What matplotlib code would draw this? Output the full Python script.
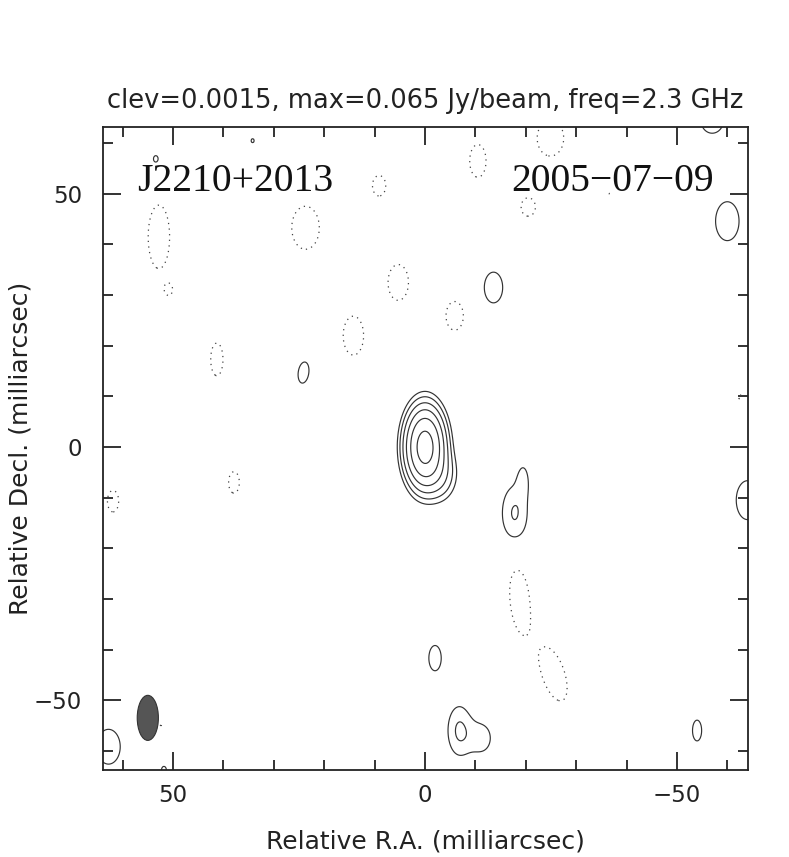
import numpy as np
import matplotlib
matplotlib.use("Agg")
import matplotlib.pyplot as plt
from matplotlib.patches import Ellipse
from matplotlib.ticker import MultipleLocator

# Map header values
CLEV = 0.0015
PEAK = 0.065
FREQ = 2.3
SOURCE = "J2210+2013"
EPOCH = "2005-07-09"

# Clean components: RA, Dec (mas), flux (Jy/beam),
# minor / major sigma (mas), position angle (deg, N through E)
comp_ra = [0.0, -3.0, 34.2, 53.4, -57.0, -60.0, -13.6, 24.1, -64.0, -17.8,
           -19.5, -2.0, -6.8, -11.2, -54.0, 62.8, 51.8,
           52.8, 50.8, 23.7, 9.1, 5.3, -10.5, -24.9, -20.5, -5.9, 14.2,
           41.3, 37.9, 61.9, -62.5, -18.8, -25.5, 52.4, -36.7]
comp_dec = [0.0, -5.5, 60.5, 56.8, 64.5, 44.6, 31.5, 14.7, -10.5, -13.2,
            -6.5, -41.7, -56.0, -57.5, -56.0, -59.2, -63.8,
            41.5, 31.0, 43.3, 51.6, 32.5, 56.5, 61.0, 47.4, 25.9, 22.0,
            17.3, -7.0, -10.7, 9.9, -30.2, -44.9, -54.8, 50.0]
comp_flux = [0.065, 0.005, 0.0016, 0.0017, 0.0025, 0.0025, 0.0025, 0.0022,
             0.0025, 0.0032, 0.0020, 0.0022, 0.0032, 0.0022, 0.0018, 0.0025,
             0.0018,
             -0.0025, -0.0017, -0.0025, -0.0025, -0.0025, -0.0025, -0.0025,
             -0.0025, -0.0025, -0.0025, -0.0025, -0.0025, -0.0025, -0.0017,
             -0.0025, -0.0025, -0.0016, -0.0016]
comp_smin = [2.0, 2.0, 0.85, 1.4, 2.2, 2.3, 1.8, 1.2, 2.2, 2.0,
             0.9, 1.4, 1.8, 2.0, 1.5, 2.3, 0.8,
             2.1, 0.9, 2.7, 1.3, 2.0, 1.6, 2.6, 1.4, 1.7, 2.0,
             1.2, 1.05, 1.1, 0.6, 1.9, 2.2, 0.5, 0.4]
comp_smaj = [4.0, 3.0, 1.1, 2.0, 2.5, 3.8, 3.0, 2.4, 3.8, 4.3,
             2.5, 2.85, 3.8, 2.8, 3.4, 3.4, 1.2,
             6.2, 1.3, 4.2, 2.0, 3.5, 3.2, 3.5, 1.8, 2.8, 3.8,
             3.2, 2.1, 2.1, 0.9, 6.2, 5.4, 0.8, 0.5]
comp_pa = [0, 0, 0, 0, 0, 0, 0, -8, 0, 0,
           0, 0, 0, 0, 0, 0, 0,
           0, 0, 0, 0, 0, 0, 0, 0, 0, 0,
           0, 0, 0, 0, 5, 18, 0, 0]

# Restoring beam (mas, deg)
BEAM_RA, BEAM_DEC = 55.0, -53.5
BEAM_MIN, BEAM_MAJ, BEAM_PA = 4.2, 8.9, 0.0

XLIM = (63.9, -64.1)
YLIM = (-63.8, 63.2)

ra = np.linspace(66, -66, 661)
dec = np.linspace(-66, 66, 661)
RA, DEC = np.meshgrid(ra, dec)
img = np.zeros_like(RA)
for x0, y0, a, smin, smaj, pa in zip(comp_ra, comp_dec, comp_flux,
                                     comp_smin, comp_smaj, comp_pa):
    t = np.radians(pa)
    dx, dy = RA - x0, DEC - y0
    u = dx * np.sin(t) + dy * np.cos(t)
    v = dx * np.cos(t) - dy * np.sin(t)
    img += a * np.exp(-(v ** 2 / (2 * smin ** 2) + u ** 2 / (2 * smaj ** 2)))

pos_levels = [CLEV * 2 ** k for k in range(10) if CLEV * 2 ** k < PEAK]

plt.rcParams['font.family'] = ['DejaVu Sans']
fig = plt.figure(figsize=(7.89, 8.57), dpi=100)
ax = fig.add_axes([0.1305, 0.1015, 0.8175, 0.7503])

ax.contour(RA, DEC, img, levels=pos_levels, colors='#333333',
           linewidths=0.85, linestyles='solid')
ax.contour(RA, DEC, img, levels=[-CLEV], colors='#444444',
           linewidths=0.9, linestyles=[(0, (1, 3.5))])

ax.add_patch(Ellipse((BEAM_RA, BEAM_DEC), BEAM_MIN, BEAM_MAJ, angle=-BEAM_PA,
                     facecolor='#555555', edgecolor='#333333', lw=0.8))

ax.set_xlim(*XLIM)
ax.set_ylim(*YLIM)
ax.xaxis.set_major_locator(MultipleLocator(50))
ax.xaxis.set_minor_locator(MultipleLocator(10))
ax.yaxis.set_major_locator(MultipleLocator(50))
ax.yaxis.set_minor_locator(MultipleLocator(10))
ax.tick_params(which='both', direction='in', top=True, right=True,
               color='#111111', width=1.2)
ax.tick_params(which='major', length=13, labelsize=16.5, labelcolor='#222222')
ax.tick_params(axis='x', which='major', pad=10)
ax.tick_params(axis='y', which='major', pad=15)
ax.tick_params(which='minor', length=7)
for sp in ax.spines.values():
    sp.set_linewidth(1.3)
    sp.set_color('#222222')

ax.set_xlabel('Relative R.A. (milliarcsec)', fontsize=18, color='#222222',
              labelpad=16)
ax.set_ylabel('Relative Decl. (milliarcsec)', fontsize=18, color='#222222',
              labelpad=1)
ax.set_title(f'clev={CLEV}, max={PEAK} Jy/beam, freq={FREQ} GHz',
             fontsize=18.5, color='#222222', pad=14)

# PGPLOT draws the dashes of the date as wide minus strokes
ax.text(0.053, 0.916, SOURCE, transform=ax.transAxes, fontsize=28.5,
        family='Liberation Serif', color='#111111', va='center', ha='left')
ax.text(0.947, 0.916, EPOCH.replace('-', '\u2212'), transform=ax.transAxes,
        fontsize=28.5, family='Liberation Serif', color='#111111',
        va='center', ha='right')

fig.savefig('out.png', dpi=100)
